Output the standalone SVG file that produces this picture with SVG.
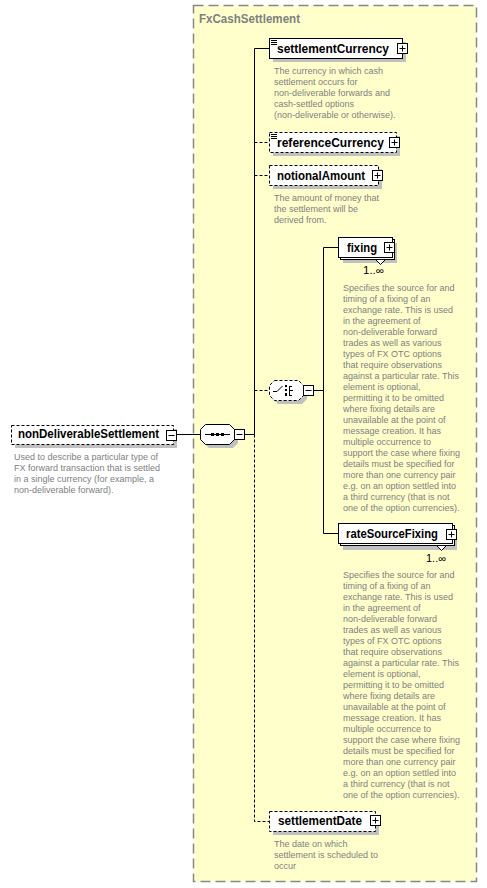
<svg xmlns="http://www.w3.org/2000/svg" xmlns:xlink="http://www.w3.org/1999/xlink" width="487" height="888" viewBox="0 0 487 888">
<style>
.lbl{font-family:"Liberation Sans",Arial,sans-serif;font-size:12px;font-weight:bold;fill:#000}
.desc{font-family:"Liberation Sans",Arial,sans-serif;font-size:9px;fill:#808080}
.occ{font-family:"Liberation Sans",Arial,sans-serif;font-size:10px;fill:#000}
.box{fill:#fff;stroke:#000;stroke-width:1}
.opt{fill:#fff;stroke:#000;stroke-width:1;stroke-dasharray:3 2}
.sh{fill:#c0c0c0}
.ln{stroke:#000;stroke-width:1;fill:none}
.dl{stroke:#000;stroke-width:1;fill:none;stroke-dasharray:3 2}
</style>
<defs>
<g id="plus"><rect x="0.5" y="0.5" width="10" height="10" fill="#fff" stroke="#000"/><path d="M2.5 5.5h6M5.5 2.5v6" stroke="#000" fill="none"/></g>
<g id="minus"><rect x="0.5" y="0.5" width="10" height="10" fill="#fff" stroke="#000"/><path d="M2.5 5.5h6" stroke="#000" fill="none"/></g>
<g id="simple"><path d="M271 0.5h6M271 2.5h6M271 4.5h6" stroke="#000" fill="none"/></g>
</defs>
<rect width="487" height="888" fill="#fff"/>

<g id="FxCashSettlement">
<rect x="193.5" y="5.5" width="283" height="876" fill="#ffffcc" stroke="#888" stroke-width="1.5" stroke-dasharray="10 5"/>
<text x="199" y="23" font-family="Liberation Sans, Arial, sans-serif" font-size="12" font-weight="bold" fill="#808080" textLength="101" lengthAdjust="spacingAndGlyphs">FxCashSettlement</text>
</g>

<g id="connectors">
<path class="ln" d="M176.5 434.5H200.5"/>
<path class="ln" d="M244.5 434.5H254.5"/>
<path class="ln" d="M254.5 434.5V48.5H269.5"/>
<path class="dl" d="M254.5 434.5V821.5H269.5"/>
<path class="dl" d="M254.5 142.5H269.5"/>
<path class="dl" d="M254.5 175.5H269.5"/>
<path class="dl" d="M254.5 390.5H269.5"/>
<path class="ln" d="M313.5 390.5H323.5"/>
<path class="ln" d="M338.5 247.5H323.5V533.5H338.5"/>
</g>

<g id="nonDeliverableSettlement">
<rect class="sh" x="15" y="429" width="162" height="19"/>
<rect class="opt" x="11.5" y="425.5" width="162" height="19"/>
<text class="lbl" x="18" y="438" textLength="141" lengthAdjust="spacingAndGlyphs">nonDeliverableSettlement</text>
<use xlink:href="#minus" x="166" y="430"/>
<text class="desc"><tspan x="14" y="460">Used to describe a particular type of</tspan><tspan x="14" y="471">FX forward transaction that is settled</tspan><tspan x="14" y="482">in a single currency (for example, a</tspan><tspan x="14" y="493">non-deliverable forward).</tspan></text>
</g>

<g id="sequence">
<polygon class="sh" points="209,428 233,428 238,433 238,443 233,448 209,448 204,443 204,433"/>
<polygon class="box" points="205.5,424.5 229.5,424.5 234.5,429.5 234.5,439.5 229.5,444.5 205.5,444.5 200.5,439.5 200.5,429.5"/>
<path class="ln" d="M205 434.5H230"/>
<rect x="211" y="433" width="3" height="3" fill="#000"/>
<rect x="216" y="433" width="3" height="3" fill="#000"/>
<rect x="221" y="433" width="3" height="3" fill="#000"/>
<use xlink:href="#minus" x="234" y="429"/>
</g>

<g id="settlementCurrency">
<rect class="sh" x="273" y="42" width="133" height="20"/>
<rect class="box" x="269.5" y="38.5" width="133" height="20"/>
<use xlink:href="#simple" x="0" y="40"/>
<text class="lbl" x="277" y="52.5" textLength="112" lengthAdjust="spacingAndGlyphs">settlementCurrency</text>
<use xlink:href="#plus" x="397" y="43"/>
<text class="desc"><tspan x="274" y="74">The currency in which cash</tspan><tspan x="274" y="85">settlement occurs for</tspan><tspan x="274" y="96">non-deliverable forwards and</tspan><tspan x="274" y="107">cash-settled options</tspan><tspan x="274" y="118">(non-deliverable or otherwise).</tspan></text>
</g>

<g id="referenceCurrency">
<rect class="sh" x="273" y="136" width="127" height="20"/>
<rect class="opt" x="269.5" y="132.5" width="127" height="20"/>
<use xlink:href="#simple" x="0" y="134"/>
<text class="lbl" x="277" y="147" textLength="107" lengthAdjust="spacingAndGlyphs">referenceCurrency</text>
<use xlink:href="#plus" x="389" y="137"/>
</g>

<g id="notionalAmount">
<rect class="sh" x="273" y="169" width="109" height="20"/>
<rect class="opt" x="269.5" y="165.5" width="109" height="20"/>
<text class="lbl" x="277" y="180" textLength="88" lengthAdjust="spacingAndGlyphs">notionalAmount</text>
<use xlink:href="#plus" x="372" y="170"/>
<text class="desc"><tspan x="274" y="201">The amount of money that</tspan><tspan x="274" y="212">the settlement will be</tspan><tspan x="274" y="223">derived from.</tspan></text>
</g>

<g id="choice">
<polygon class="sh" points="278,384 302,384 307,389 307,399 302,404 278,404 273,399 273,389"/>
<polygon class="opt" points="274.5,380.5 298.5,380.5 303.5,385.5 303.5,395.5 298.5,400.5 274.5,400.5 269.5,395.5 269.5,385.5"/>
<path class="ln" d="M273 391.5H277L282.5 386"/>
<rect x="285" y="385" width="2" height="2" fill="#000"/>
<rect x="285" y="389" width="2" height="2" fill="#000"/>
<rect x="285" y="393" width="2" height="3" fill="#000"/>
<path class="ln" d="M289.5 386V396M289.5 386.5H292M289.5 390.5H293M289.5 395.5H292"/>
<use xlink:href="#minus" x="303" y="385"/>
</g>

<g id="fixing">
<rect class="sh" x="343" y="243" width="54" height="20"/>
<rect class="box" x="340.5" y="239.5" width="54" height="20"/>
<rect class="box" x="338.5" y="237.5" width="54" height="20"/>
<text class="lbl" x="347" y="252" textLength="30" lengthAdjust="spacingAndGlyphs">fixing</text>
<use xlink:href="#plus" x="384" y="242"/>
<path d="M375.5 259.5H385.5L380.5 264.5Z" fill="#fff" stroke="#000"/>
<text class="occ" x="363" y="274" textLength="21" lengthAdjust="spacingAndGlyphs">1..∞</text>
<text class="desc"><tspan x="343" y="291">Specifies the source for and</tspan><tspan x="343" y="302">timing of a fixing of an</tspan><tspan x="343" y="313">exchange rate. This is used</tspan><tspan x="343" y="324">in the agreement of</tspan><tspan x="343" y="335">non-deliverable forward</tspan><tspan x="343" y="346">trades as well as various</tspan><tspan x="343" y="357">types of FX OTC options</tspan><tspan x="343" y="368">that require observations</tspan><tspan x="343" y="379">against a particular rate. This</tspan><tspan x="343" y="390">element is optional,</tspan><tspan x="343" y="401">permitting it to be omitted</tspan><tspan x="343" y="412">where fixing details are</tspan><tspan x="343" y="423">unavailable at the point of</tspan><tspan x="343" y="434">message creation. It has</tspan><tspan x="343" y="445">multiple occurrence to</tspan><tspan x="343" y="456">support the case where fixing</tspan><tspan x="343" y="467">details must be specified for</tspan><tspan x="343" y="478">more than one currency pair</tspan><tspan x="343" y="489">e.g. on an option settled into</tspan><tspan x="343" y="500">a third currency (that is not</tspan><tspan x="343" y="511">one of the option currencies).</tspan></text>
</g>

<g id="rateSourceFixing">
<rect class="sh" x="343" y="529" width="114" height="21"/>
<rect class="box" x="340.5" y="525.5" width="114" height="20"/>
<rect class="box" x="338.5" y="523.5" width="114" height="20"/>
<text class="lbl" x="346" y="538" textLength="92" lengthAdjust="spacingAndGlyphs">rateSourceFixing</text>
<use xlink:href="#plus" x="446" y="529"/>
<path d="M436.5 545.5H446.5L441.5 550.5Z" fill="#fff" stroke="#000"/>
<text class="occ" x="426" y="562" textLength="20" lengthAdjust="spacingAndGlyphs">1..∞</text>
<text class="desc"><tspan x="343" y="578">Specifies the source for and</tspan><tspan x="343" y="589">timing of a fixing of an</tspan><tspan x="343" y="600">exchange rate. This is used</tspan><tspan x="343" y="611">in the agreement of</tspan><tspan x="343" y="622">non-deliverable forward</tspan><tspan x="343" y="633">trades as well as various</tspan><tspan x="343" y="644">types of FX OTC options</tspan><tspan x="343" y="655">that require observations</tspan><tspan x="343" y="666">against a particular rate. This</tspan><tspan x="343" y="677">element is optional,</tspan><tspan x="343" y="688">permitting it to be omitted</tspan><tspan x="343" y="699">where fixing details are</tspan><tspan x="343" y="710">unavailable at the point of</tspan><tspan x="343" y="721">message creation. It has</tspan><tspan x="343" y="732">multiple occurrence to</tspan><tspan x="343" y="743">support the case where fixing</tspan><tspan x="343" y="754">details must be specified for</tspan><tspan x="343" y="765">more than one currency pair</tspan><tspan x="343" y="776">e.g. on an option settled into</tspan><tspan x="343" y="787">a third currency (that is not</tspan><tspan x="343" y="798">one of the option currencies).</tspan></text>
</g>

<g id="settlementDate">
<rect class="sh" x="273" y="815" width="106" height="20"/>
<rect class="opt" x="269.5" y="811.5" width="106" height="20"/>
<text class="lbl" x="278" y="825" textLength="84" lengthAdjust="spacingAndGlyphs">settlementDate</text>
<use xlink:href="#plus" x="370" y="815"/>
<text class="desc"><tspan x="274" y="847">The date on which</tspan><tspan x="274" y="858">settlement is scheduled to</tspan><tspan x="274" y="869">occur</tspan></text>
</g>
</svg>
